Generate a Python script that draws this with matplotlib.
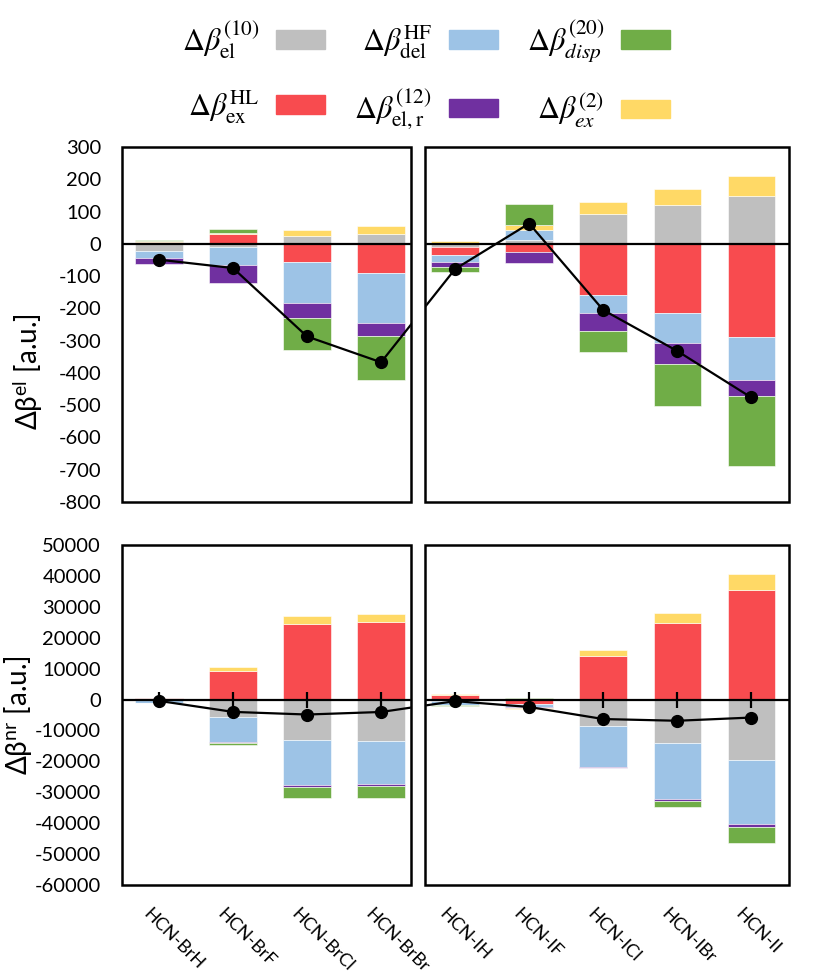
''' stacked decomposition of hyperpolarizability changes, two panels '''
import numpy as np
import matplotlib.pyplot as plt
from matplotlib.patches import Rectangle, Patch

plt.rcParams['font.family'] = ['Lato', 'DejaVu Sans']
plt.rcParams['mathtext.fontset'] = 'stix'
plt.rcParams['axes.unicode_minus'] = False

complexes = ['HCN-BrH', 'HCN-BrF', 'HCN-BrCl', 'HCN-BrBr',
             'HCN-IH', 'HCN-IF', 'HCN-ICl', 'HCN-IBr', 'HCN-II']

# electronic part, a.u.
el10_el = [-22, -10, 23, 31, -11, 12, 93, 121, 147]
exHL_el = [7, 29, -56, -90, -24, -24, -158, -215, -289]
delHF_el = [-21, -57, -126, -154, -22, 31, -55, -91, -134]
el12_el = [-18, -53, -48, -40, -15, -36, -56, -66, -48]
ex2_el = [2, 4, 19, 25, 10, 15, 38, 49, 64]
disp_el = [3, 12, -99, -139, -16, 65, -67, -130, -216]

# nuclear relaxation part, a.u.
el10_nr = [-300, -5600, -13040, -13500, -500, -200, -8700, -13900, -19400]
exHL_nr = [600, 9270, 24580, 25010, 1400, -1200, 14120, 24790, 35570]
delHF_nr = [-700, -8090, -14660, -13800, -1200, -1100, -13150, -18400, -21020]
el12_nr = [-50, -430, -750, -650, -200, -100, -200, -540, -970]
ex2_nr = [50, 1290, 2370, 2800, 300, -300, 1830, 3130, 4960]
disp_nr = [-30, -430, -3340, -3880, -300, 500, -200, -1940, -4960]

colors = ['#BFBFBF', '#F84B4F', '#9DC3E6', '#7030A0', '#FFD966', '#70AD47']
names = [r'$\Delta\beta_{\mathrm{el}}^{(10)}$', r'$\Delta\beta_{\mathrm{ex}}^{\mathrm{HL}}$',
         r'$\Delta\beta_{\mathrm{del}}^{\mathrm{HF}}$', r'$\Delta\beta_{\mathrm{el,r}}^{(12)}$',
         r'$\Delta\beta_{ex}^{(2)}$', r'$\Delta\beta_{disp}^{(20)}$']

x = np.arange(len(complexes))
split_l, split_r, x_end = 3.40, 3.60, 8.51


def stacked_panel(ax, comps):
    ''' positive and negative pieces stacked from zero, total drawn as line '''
    pos = np.zeros(len(x))
    neg = np.zeros(len(x))
    for vals, col in zip(comps, colors):
        vals = np.asarray(vals, dtype=float)
        base = np.where(vals >= 0, pos, neg)
        ax.bar(x, vals, bottom=base, width=0.64, color=col,
               edgecolor='white', linewidth=0.4, zorder=2)
        pos += np.clip(vals, 0, None)
        neg += np.clip(vals, None, 0)
    total = np.sum(comps, axis=0)
    ax.axhline(0, color='black', lw=1.6, zorder=3)
    ax.plot(x, total, color='black', lw=1.6, marker='o', markersize=8.5, zorder=4)

    ax.set_xlim(-0.5, x_end)
    for s in ax.spines.values():
        s.set_visible(False)
    # white gap splitting the chart into two boxes
    ax.axvspan(split_l, split_r, color='white', zorder=5)
    trans = ax.get_xaxis_transform()
    ax.add_patch(Rectangle((-0.5, 0), split_l + 0.5, 1, transform=trans,
                           fill=False, lw=1.8, ec='black', zorder=6, clip_on=False))
    ax.add_patch(Rectangle((split_r, 0), x_end - split_r, 1, transform=trans,
                           fill=False, lw=1.8, ec='black', zorder=6, clip_on=False))
    ax.tick_params(axis='y', length=0, pad=15, labelsize=14.5)


fig = plt.figure(figsize=(8.13, 9.75), dpi=100)
ax1 = fig.add_axes([0.150, 0.4851, 0.8205, 0.3641])
ax2 = fig.add_axes([0.150, 0.0923, 0.8205, 0.3487])

stacked_panel(ax1, [el10_el, exHL_el, delHF_el, el12_el, ex2_el, disp_el])
ax1.set_ylim(-800, 300)
ax1.set_yticks(np.arange(-800, 301, 100))
ax1.set_xticks([])
ax1.set_ylabel(r'Δβ$^{\mathregular{el}}$ [a.u.]', fontsize=20)
ax1.yaxis.set_label_coords(-0.116, 0.366)

stacked_panel(ax2, [el10_nr, exHL_nr, delHF_nr, el12_nr, ex2_nr, disp_nr])
ax2.set_ylim(-60000, 50000)
ax2.set_yticks(np.arange(-60000, 50001, 10000))
ax2.plot(x, np.zeros(len(x)), ls='none', marker='|', markersize=11,
         mew=1.6, color='black', zorder=3)
ax2.set_ylabel(r'Δβ$^{\mathregular{nr}}$ [a.u.]', fontsize=20)
ax2.yaxis.set_label_coords(-0.132, 0.5)
ax2.set_xticks(x - 0.1)
ax2.set_xticklabels(complexes, rotation=-45, ha='left', va='top',
                    rotation_mode='anchor', fontsize=13)
ax2.tick_params(axis='x', length=0, pad=15)

# legend: gray, blue, green on top row; red, purple, yellow below
order = [0, 1, 2, 3, 5, 4]
handles = [Patch(color=colors[i]) for i in order]
fig.legend(handles, [names[i] for i in order], ncol=3, loc='center',
           bbox_to_anchor=(0.524, 0.923), frameon=False, markerfirst=False,
           fontsize=22, handlelength=1.6, handleheight=0.55,
           handletextpad=0.55, columnspacing=0.95, labelspacing=0.9)

plt.savefig('out.png')
